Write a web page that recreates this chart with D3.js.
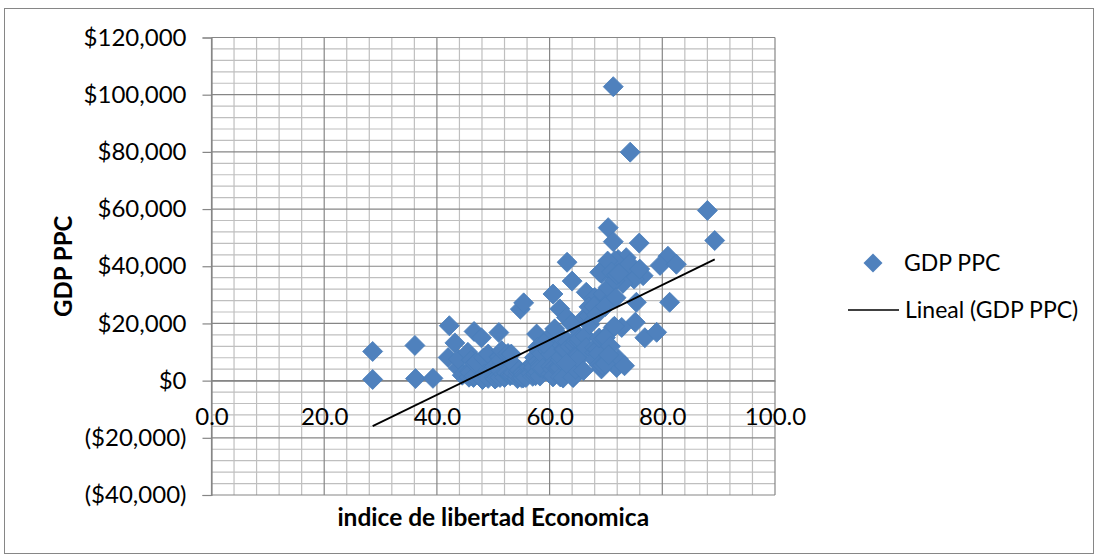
<!DOCTYPE html>
<html>
<head>
<meta charset="utf-8">
<script src="https://cdn.jsdelivr.net/npm/d3@7"></script>
<style>
  html, body { margin: 0; padding: 0; background: #fff; }
  svg { display: block; }
  text { font-family: Lato, "Open Sans", sans-serif; fill: #000; }
</style>
</head>
<body>
<div id="chart"></div>
<script>
(function () {

    // indice de libertad economica (x) and GDP PPC (y)
    const freedomScore = [
        28.6, 28.6, 36.1, 36.2, 39.3, 42.2, 43.2, 46.6, 47.9, 51.0,
        54.8, 55.4, 60.6, 61.8, 63.1, 64.0, 63.0, 66.5, 68.0,
        69.5, 70.7, 70.4, 71.3, 75.9, 69.2, 72.2, 73.6, 74.8, 76.6,
        81.0, 79.6, 82.5, 75.4, 81.3, 71.3, 74.3, 88.0, 89.3, 67.1,
        71.3, 75.2, 76.9, 79.0, 57.7, 71.9, 64.2, 72.8, 71.6, 68.9,
        70.4, 63.9, 66.2, 61.0, 72.2, 69.2, 73.3, 73.5, 74.2, 75.0,
        73.0, 76.0, 72.8, 42.0, 43.8, 43.8, 44.5, 45.5, 45.8, 45.7,
        45.9, 46.1, 46.5, 46.6, 46.7, 47.0, 48.0, 48.1, 48.1, 48.3,
        48.5, 48.8, 49.1, 49.1, 50.0, 50.2, 50.2, 50.3, 50.4, 50.7,
        51.0, 51.2, 51.2, 51.2, 51.3, 51.3, 51.5, 51.8, 52.0, 52.4,
        52.6, 53.0, 53.0, 53.2, 53.4, 53.6, 53.7, 54.3, 54.3, 54.4,
        54.6, 55.0, 55.1, 55.3, 55.3, 55.4, 55.7, 55.8, 56.4, 56.7,
        57.0, 57.0, 57.1, 57.2, 57.2, 57.3, 57.5, 57.6, 57.9, 57.9,
        57.9, 58.0, 58.3, 58.3, 58.3, 58.6, 58.8, 59.7, 60.1, 60.2,
        60.2, 60.2, 60.5, 60.6, 60.7, 60.9, 60.9, 61.5, 61.8, 61.8,
        61.9, 61.9, 62.0, 62.4, 62.5, 62.5, 62.7, 63.2, 63.6, 64.1,
        64.4, 64.6, 64.7, 64.9, 65.1, 65.1, 65.2, 65.2, 65.3, 66.3,
        66.5, 67.0, 67.0, 67.1, 67.9, 68.0, 68.0, 68.0, 68.3, 68.5,
        68.7, 68.8, 68.8, 69.4, 69.6, 69.9, 69.9, 69.9, 70.3, 70.8,
        71.0, 71.5, 71.6, 71.8, 71.9, 72.3, 70.5, 66.0, 63.0, 59.0
    ];
    const gdpPpc = [
        10200, 400, 12300, 700, 800, 19200, 13200, 17200, 15000, 16800,
        25000, 27200, 30300, 25100, 41400, 34800, 22100, 30900, 29100,
        30300, 28000, 53500, 48600, 48100, 37500, 42300, 43000, 38500, 36700,
        43500, 40300, 40700, 27400, 27400, 102800, 79900, 59500, 49000, 22100,
        18600, 20400, 15000, 16900, 16300, 4600, 1100, 38500, 42000, 37900,
        32600, 19800, 22100, 11600, 7600, 4100, 5200, 36500, 40800, 35500,
        34000, 39000, 18600, 8100, 4400, 7500, 1900, 9900, 3300, 1200,
        2800, 7200, 1100, 1600, 6000, 6400, 900, 400, 500, 8000,
        2300, 1900, 800, 9300, 2700, 4900, 1200, 600, 700, 1200,
        8300, 8400, 5100, 1100, 3400, 7200, 10500, 2300, 1100, 2700,
        9500, 1700, 2100, 9300, 2100, 2700, 5500, 700, 1800, 3100,
        3700, 1000, 2700, 900, 2700, 1900, 1600, 1100, 4600, 2500,
        1500, 6100, 4100, 5700, 4600, 8100, 1700, 2400, 11700, 6500,
        3000, 10600, 1600, 5600, 4700, 9400, 4300, 10400, 15500, 2300,
        9300, 5000, 4000, 1300, 1700, 4900, 18100, 4500, 5300, 4600,
        1300, 7300, 8300, 900, 14300, 11000, 10900, 13600, 12000, 1200,
        12400, 4000, 13700, 9200, 9000, 7700, 15700, 13800, 14600, 15600,
        11600, 22600, 25800, 19600, 26000, 9800, 7400, 11500, 23000, 11000,
        9500, 5500, 14900, 5400, 14700, 15000, 5900, 25900, 41800, 12000,
        38000, 19000, 35000, 29000, 37000, 37500, 9000, 3500, 6000, 13000
    ];

    // Lineal (GDP PPC) trendline as shown in the picture
    const trendSlope = 961;
    const trendIntercept = -43400;

    const xTicks = [0, 20, 40, 60, 80, 100];
    const yTicks = [-40000, -20000, 0, 20000, 40000, 60000, 80000, 100000, 120000];
    const seriesName = "GDP PPC";
    const trendName = "Lineal (GDP PPC)";
    const xTitle = "indice de libertad Economica";
    const yTitle = "GDP PPC";

    const width = 1099, height = 558;
    const plot = { left: 211.5, right: 775, top: 37.5, bottom: 495 };
    const blue = "#4F81BD";
    const fontSize = "24px";

    const points = freedomScore.map((x, i) => ({ x: x, y: gdpPpc[i] }));

    const xScale = d3.scaleLinear().domain([0, 100]).range([plot.left, plot.right]);
    const yScale = d3.scaleLinear().domain([-40000, 120000]).range([plot.bottom, plot.top]);

    const svg = d3.select("#chart").append("svg")
        .attr("width", width)
        .attr("height", height);

    svg.append("rect")
        .attr("x", 4.5).attr("y", 8.5)
        .attr("width", 1089).attr("height", 545)
        .attr("fill", "#fff")
        .attr("stroke", "#868686");

    // minor grid
    const grid = svg.append("g");
    grid.selectAll(".vminor")
        .data(d3.range(0, 101, 4).filter(v => v % 20 !== 0))
        .enter().append("line")
        .attr("x1", d => xScale(d)).attr("x2", d => xScale(d))
        .attr("y1", plot.top).attr("y2", plot.bottom)
        .attr("stroke", "#bfbfbf").attr("stroke-width", 1.2);
    grid.selectAll(".hminor")
        .data(d3.range(-40000, 120001, 4000).filter(v => v % 20000 !== 0))
        .enter().append("line")
        .attr("x1", plot.left).attr("x2", plot.right)
        .attr("y1", d => yScale(d)).attr("y2", d => yScale(d))
        .attr("stroke", "#bfbfbf").attr("stroke-width", 1.2);

    // major grid
    grid.selectAll(".vmajor")
        .data(xTicks)
        .enter().append("line")
        .attr("x1", d => xScale(d)).attr("x2", d => xScale(d))
        .attr("y1", plot.top).attr("y2", plot.bottom)
        .attr("stroke", "#868686").attr("stroke-width", 1.2);
    grid.selectAll(".hmajor")
        .data(yTicks)
        .enter().append("line")
        .attr("x1", plot.left).attr("x2", plot.right)
        .attr("y1", d => yScale(d)).attr("y2", d => yScale(d))
        .attr("stroke", "#868686").attr("stroke-width", 1.2);

    // y axis
    const money = d3.format(",");
    const yAxis = d3.axisLeft(yScale)
        .tickValues(yTicks)
        .tickSize(9)
        .tickPadding(16)
        .tickFormat(v => v < 0 ? `($${money(-v)})` : `$${money(v)}`);
    const gy = svg.append("g")
        .attr("transform", `translate(${plot.left},0)`)
        .call(yAxis);
    gy.select(".domain").attr("stroke", "#868686").attr("stroke-width", 1.2);
    gy.selectAll(".tick line").attr("stroke", "#868686").attr("stroke-width", 1.2);
    gy.selectAll(".tick text")
        .style("font-family", "Lato, sans-serif")
        .style("font-size", fontSize)
        .attr("fill", "#000");

    // x axis crosses at $0
    const xAxis = d3.axisBottom(xScale)
        .tickValues(xTicks)
        .tickSize(0)
        .tickPadding(27)
        .tickFormat(d3.format(".1f"));
    const gx = svg.append("g")
        .attr("transform", `translate(0,${yScale(0)})`)
        .call(xAxis);
    gx.select(".domain").attr("stroke", "#868686").attr("stroke-width", 1.2);
    gx.selectAll(".tick text")
        .style("font-family", "Lato, sans-serif")
        .style("font-size", fontSize)
        .attr("fill", "#000");

    // scatter
    const diamond = d3.symbol().type(d3.symbolSquare).size(200);
    svg.append("g")
        .selectAll("path")
        .data(points)
        .enter().append("path")
        .attr("d", diamond)
        .attr("transform", d => `translate(${xScale(d.x)},${yScale(d.y)}) rotate(45)`)
        .attr("fill", blue)
        .attr("stroke", "#4A7EBB")
        .attr("stroke-width", 0.8);

    // trendline over the data range
    const xExtent = d3.extent(freedomScore);
    svg.append("line")
        .attr("x1", xScale(xExtent[0])).attr("y1", yScale(trendSlope * xExtent[0] + trendIntercept))
        .attr("x2", xScale(xExtent[1])).attr("y2", yScale(trendSlope * xExtent[1] + trendIntercept))
        .attr("stroke", "#000").attr("stroke-width", 1.8);

    // titles
    svg.append("text")
        .attr("x", (plot.left + plot.right) / 2)
        .attr("y", 526)
        .attr("text-anchor", "middle")
        .style("font-size", "24.5px")
        .style("font-weight", "bold")
        .text(xTitle);
    svg.append("text")
        .attr("transform", `translate(72,${(plot.top + plot.bottom) / 2}) rotate(-90)`)
        .attr("text-anchor", "middle")
        .style("font-size", "24px")
        .style("font-weight", "bold")
        .text(yTitle);

    // legend
    const legend = svg.append("g");
    legend.append("path")
        .attr("d", d3.symbol().type(d3.symbolSquare).size(180))
        .attr("transform", "translate(873,263) rotate(45)")
        .attr("fill", blue);
    legend.append("text")
        .attr("x", 904).attr("y", 263).attr("dy", "0.35em")
        .style("font-size", "23px")
        .text(seriesName);
    legend.append("line")
        .attr("x1", 848).attr("x2", 899)
        .attr("y1", 310).attr("y2", 310)
        .attr("stroke", "#000").attr("stroke-width", 1.5);
    legend.append("text")
        .attr("x", 905).attr("y", 310).attr("dy", "0.35em")
        .style("font-size", "23px")
        .text(trendName);

})()
</script>
</body>
</html>
